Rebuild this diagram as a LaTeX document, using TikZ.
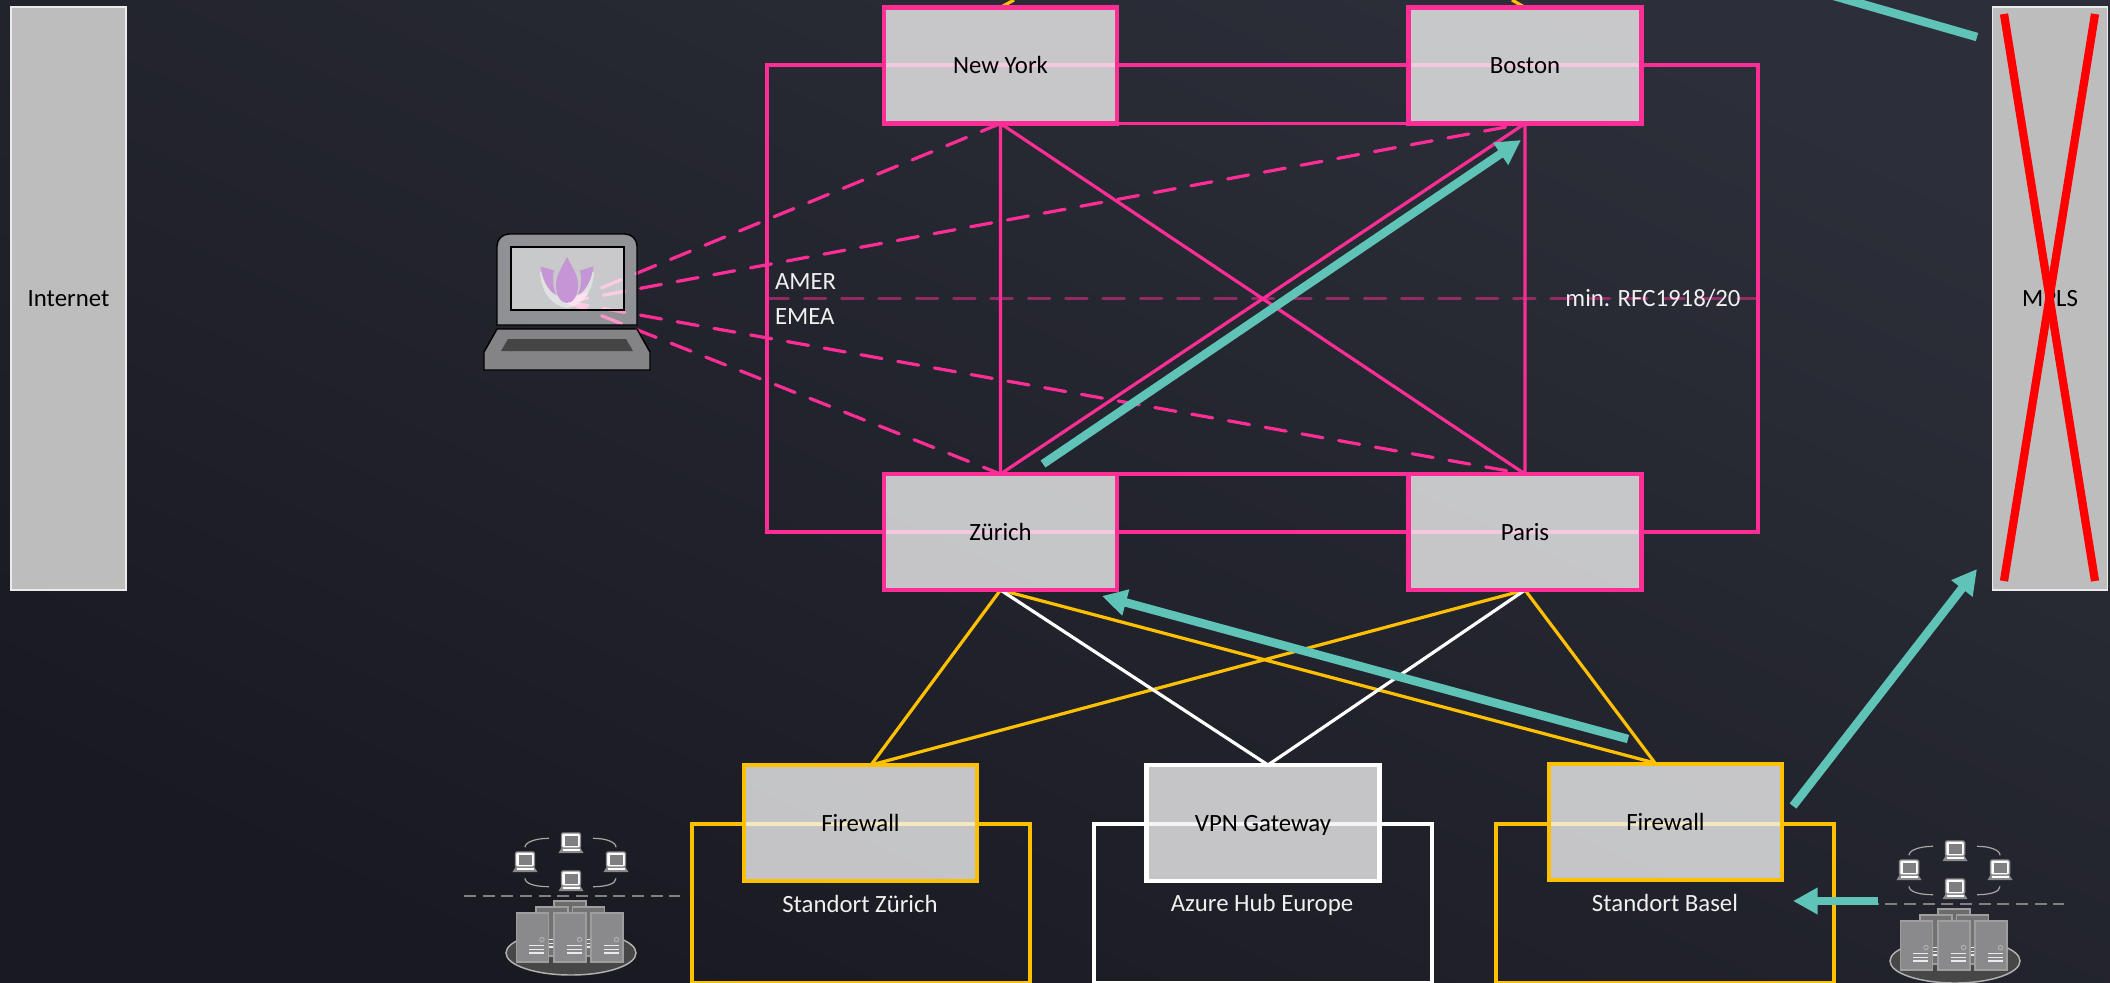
\documentclass[tikz,border=0pt]{standalone}
\usepackage{fontspec}
\setmainfont{Carlito}
\usetikzlibrary{arrows.meta,calc}
\pgfdeclarelayer{backdrop}
\pgfdeclarelayer{links}
\pgfsetlayers{backdrop,links,main}
\definecolor{bgtop}{HTML}{2C2F39}
\definecolor{bgbot}{HTML}{191921}
\definecolor{hot}{HTML}{FF2E96}
\definecolor{amber}{HTML}{FFC000}
\definecolor{teal2}{HTML}{5FC4B7}
\definecolor{icon}{HTML}{8A8A8C}
\definecolor{lotus}{HTML}{C695D5}
\tikzset{
  x=0.75pt,y=-0.75pt,
  lab/.style={font=\fontsize{18.6}{22}\selectfont,inner sep=0pt,outer sep=0pt,text height=12pt,text depth=0pt},
  wlab/.style={lab,text=white!94!black},
  site/.style={lab,rectangle,minimum width=174.75pt,minimum height=87pt,fill=white!95!black,fill opacity=.79,text opacity=1,text=black,line width=3.4pt},
  side/.style={lab,rectangle,minimum width=86.25pt,minimum height=437.25pt,fill=white!74!black,text=black,draw=white!92!black,line width=1.1pt},
  zone/.style={rectangle,inner sep=0pt,outer sep=0pt,minimum width=253.5pt,minimum height=119.25pt,line width=3.3pt},
  thin link/.style={line width=2.4pt},
  vpndash/.style={hot,line width=2.4pt,line cap=round,dash pattern=on 16pt off 12pt},
  flow/.style={teal2,line width=6.4pt,-{Triangle[length=18.5pt,width=19pt]}},
  flowbar/.style={teal2,line width=6.4pt},
  nope/.style={red,line width=6.2pt},
  rack/.style={draw=white!62!black,line width=.8pt},
  pics/minilap/.style={code={
    \draw[icon,line width=1.1pt,fill=white,rounded corners=1pt] (-9.5,-10) rectangle (9.5,5);
    \fill[icon!92!black] (-6.5,-7) rectangle (6.5,2.5);
    \fill[icon] (-9.5,5) -- (9.5,5) -- (12.5,10) -- (-12.5,10) -- cycle;
    \draw[white,line width=.8pt] (-8.5,7) -- (8.5,7);
  }},
  pics/server/.style={code={
    \filldraw[rack,fill=#1] (-16,-24.5) rectangle (16,24.5);
    \draw[white!70!black,line width=.7pt] (9.5,2) circle (2.2);
    \draw[white!92!black,line width=.8pt] (-3.5,8) -- (11.5,8) (-3.5,11.7) -- (11.5,11.7) (-3.5,15.5) -- (11.5,15.5);
  }},
  pics/cluster/.style={code={
    \draw[white!65!black,line width=.9pt]
      (-22,-57.7) .. controls (-35,-57.7) and (-46,-54) .. (-46,-48.7)
      (22,-57.7) .. controls (35,-57.7) and (45,-54) .. (45,-48.7)
      (-46,-17.7) .. controls (-46,-12) and (-35,-9.3) .. (-22,-9.3)
      (45,-17.7) .. controls (45,-12) and (35,-9.3) .. (22,-9.3);
    \foreach \px/\py in {0/-53,-46/-34,45/-34,0/-15} {\pic at (\px,\py) {minilap};}
    \draw[white!50!black,line width=1.5pt,dash pattern=on 9pt off 5pt] (-107,0) -- (109,0);
    \filldraw[draw=white!70!black,fill=white!28!black,line width=1.1pt] (0,57) ellipse [x radius=65,y radius=22];
    \pic at (-1,29.5) {server={white!42!black}};
    \pic at (-19,35.5) {server={white!45!black}};
    \pic at (17.5,35.5) {server={white!45!black}};
    \pic at (-38.5,41.5) {server=icon};
    \pic at (-1,41.5) {server=icon};
    \pic at (36,41.5) {server=icon};
  }}
}
\begin{document}
\begin{tikzpicture}
\useasboundingbox (0,0) rectangle (2110,982);
\begin{pgfonlayer}{backdrop}
  \shade[top color=bgtop,bottom color=bgbot,shading angle=-25] (0,0) rectangle (2110,982);
\end{pgfonlayer}

% main boxes
\node[side] (inet) at (68.5,298.5) {Internet};
\node[side] (mpls) at (2050,298.5) {MPLS};
\node[site,draw=hot] (ny) at (1000.5,65.5) {New York};
\node[site,draw=hot] (bos) at (1525,65.5) {Boston};
\node[site,draw=hot] (zrh) at (1000.5,532) {Zürich};
\node[site,draw=hot] (par) at (1525,532) {Paris};
\node[site,draw=amber] (fwz) at (860.5,823) {Firewall};
\node[site,draw=white] (vpn) at (1263,823) {VPN Gateway};
\node[site,draw=amber] (fwb) at (1665.5,822) {Firewall};

\coordinate (lap) at (567,302);
\coordinate (fwzin) at (871,765);
\coordinate (fwbin) at (1655,763);
\coordinate (vpnin) at (1268,765);
\coordinate (nyup) at (1014,0);
\coordinate (bosup) at (1512,0);

\begin{pgfonlayer}{links}
  \node[rectangle,draw=hot,line width=3.2pt,inner sep=0pt,outer sep=0pt,minimum width=743.25pt,minimum height=350.25pt] (core) at (1262.5,298.5) {};
  \node[zone,draw=amber] (zz) at (861,903.5) {};
  \node[zone,draw=white] (zv) at (1263,903.5) {};
  \node[zone,draw=amber] (zb) at (1665,903.5) {};
  \draw[hot,opacity=.5,line width=2.4pt,line cap=round,dash pattern=on 16pt off 12pt] (core.west) -- (core.east);
  \draw[hot,thin link] (ny.south) -- (zrh.north) (ny.south) -- (par.north) (bos.south) -- (zrh.north) (bos.south) -- (par.north);
  \draw[hot,thin link] (ny.south east) -- (bos.south west) (zrh.north east) -- (par.north west);
  \draw[amber,thin link] (zrh.south) -- (fwzin) (zrh.south) -- (fwbin) (par.south) -- (fwzin) (par.south) -- (fwbin) (ny.north) -- (nyup) (bos.north) -- (bosup);
  \draw[white,thin link] (zrh.south) -- (vpnin) (par.south) -- (vpnin);
  \draw[vpndash] (lap) -- (ny.south);
  \draw[vpndash] (lap) -- (bos.south);
  \draw[vpndash] (lap) -- (zrh.north);
  \draw[vpndash] (lap) -- (par.north);
\end{pgfonlayer}

% labels
\node[wlab,anchor=west] (amer) at (775,281) {AMER};
\node[wlab,anchor=west] (emea) at (775,316) {EMEA};
\node[wlab] (rfc) at (1653,298) {min. RFC1918/20};
\node[wlab] (lz) at (860,904) {Standort Zürich};
\node[wlab] (lv) at (1262,903) {Azure Hub Europe};
\node[wlab] (lb) at (1665,903) {Standort Basel};

% laptop
\filldraw[black,fill=white,fill opacity=.5,line width=1.1pt,rounded corners=9pt]
  (497,325) [sharp corners] -- (497,290) [rounded corners=9pt] -- (497,234) -- (637,234) [sharp corners] -- (637,325) -- cycle;
\filldraw[black,fill=white,fill opacity=.51,line width=1.1pt] (511,247) rectangle (624,310);
\fill[white,opacity=.45] (540,272) .. controls (541,292) and (552,306) .. (567,308) .. controls (582,306) and (593,292) .. (594,272) -- (588,272) .. controls (586,288) and (578,298) .. (567,300) .. controls (556,298) and (548,288) .. (546,272) -- cycle;
\fill[lotus] (567,257) .. controls (572,267) and (578,275) .. (578,285) .. controls (578,296) and (573,303) .. (567,303) .. controls (561,303) and (556,296) .. (556,285) .. controls (556,275) and (562,267) .. (567,257) -- cycle;
\fill[lotus] (540.5,266.5) -- (554,270.5) .. controls (552,278) and (553,288) .. (556,295) .. controls (547,290) and (542,278) .. (540.5,266.5) -- cycle;
\fill[lotus] (593.5,266.5) -- (580,270.5) .. controls (582,278) and (581,288) .. (578,295) .. controls (587,290) and (592,278) .. (593.5,266.5) -- cycle;
\filldraw[black,fill=icon!105!white,line width=1.1pt] (497,329) -- (637,329) -- (650,352) -- (650,370) -- (484,370) -- (484,352) -- cycle;
\fill[white!27!black] (508,339) -- (626,339) -- (633,351) -- (501,351) -- cycle;

% clusters
\pic at (571,896) {cluster};
\pic at (1955,904) {cluster};

% teal flows
\coordinate (f1s) at (1043,464); \coordinate (f1e) at (1521,140);
\coordinate (f2s) at (1628,739); \coordinate (f2e) at (1102,596);
\coordinate (f3s) at (1793,806); \coordinate (f3e) at (1977,569);
\coordinate (f4s) at (1878,901); \coordinate (f4e) at (1793,901);
\coordinate (f5s) at (1977,37); \coordinate (f5e) at (1848,0);
\draw[flow] (f1s) -- (f1e);
\draw[flow] (f2s) -- (f2e);
\draw[flow] (f3s) -- (f3e);
\draw[flow] (f4s) -- (f4e);
\begin{scope}
  \clip (0,0) rectangle (2110,982);
  \draw[flowbar] (f5s) -- ($(f5e)!-.2!(f5s)$);
\end{scope}

% red cross on MPLS
\coordinate (xa) at (2004,14); \coordinate (xb) at (2095,581);
\coordinate (xc) at (2095,14); \coordinate (xd) at (2004,581);
\draw[nope] (xa) -- (xb);
\draw[nope] (xc) -- (xd);
\end{tikzpicture}
\end{document}
